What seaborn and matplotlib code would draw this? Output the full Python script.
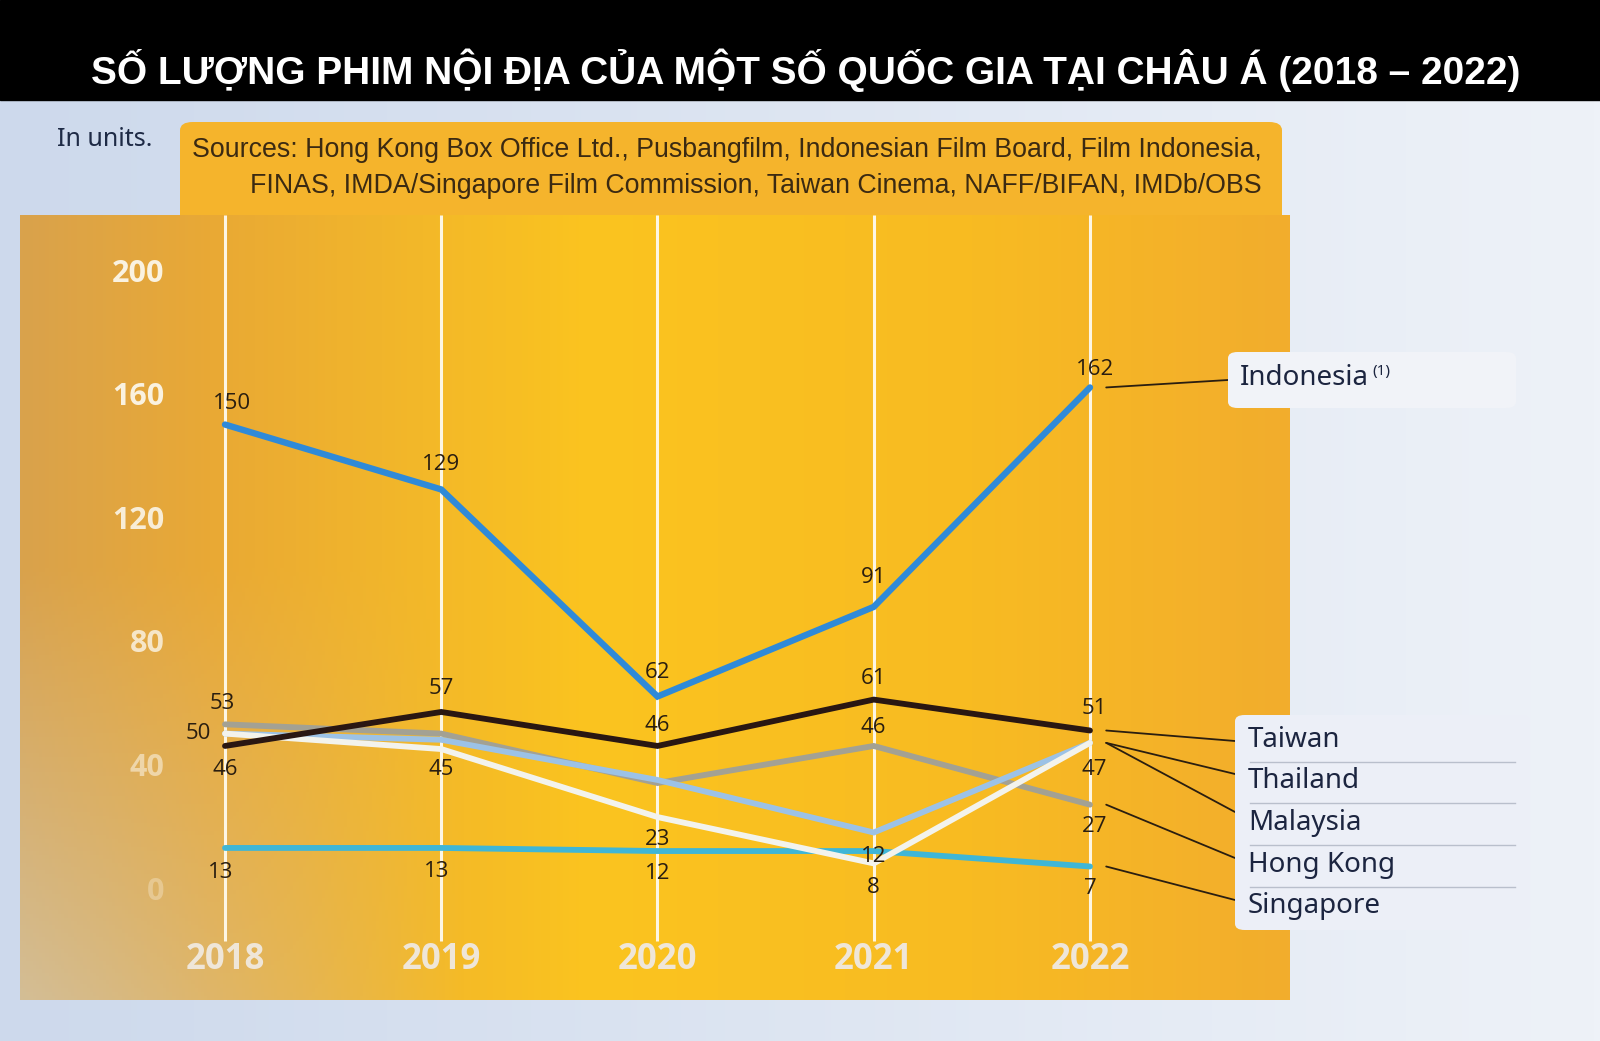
import matplotlib
matplotlib.use('Agg')
import matplotlib.pyplot as plt
import numpy as np
import pandas as pd
import seaborn as sns
from matplotlib.patches import Rectangle, FancyBboxPatch
from matplotlib.colors import to_rgb

# Số liệu (đơn vị: phim)
years = [2018, 2019, 2020, 2021, 2022]
indonesia = [150, 129, 62, 91, 162]
taiwan = [46, 57, 46, 61, 51]
thailand = [50, 48, 35, 18, 47]
malaysia = [50, 45, 23, 8, 47]
hong_kong = [53, 50, 34, 46, 27]
singapore = [13, 13, 12, 12, 7]
y_ticks = [0, 40, 80, 120, 160, 200]

title = 'SỐ LƯỢNG PHIM NỘI ĐỊA CỦA MỘT SỐ QUỐC GIA TẠI CHÂU Á (2018 – 2022)'
source_1 = 'Sources: Hong Kong Box Office Ltd., Pusbangfilm, Indonesian Film Board, Film Indonesia,'
source_2 = 'FINAS, IMDA/Singapore Film Commission, Taiwan Cinema, NAFF/BIFAN, IMDb/OBS'

series = {
    'Singapore': singapore,
    'Hong Kong': hong_kong,
    'Thailand': thailand,
    'Malaysia': malaysia,
    'Taiwan': taiwan,
    'Indonesia': indonesia,
}
df = pd.DataFrame([(c, y, v) for c, vals in series.items() for y, v in zip(years, vals)],
                  columns=['country', 'year', 'value'])

palette = {
    'Indonesia': '#2f8ad8',
    'Taiwan': '#2a1712',
    'Hong Kong': '#a3a193',
    'Thailand': '#9cc2e6',
    'Malaysia': '#f3f3ec',
    'Singapore': '#3fb6d6',
}
widths = {'Indonesia': 4.6, 'Taiwan': 4.2, 'Hong Kong': 4.2,
          'Thailand': 4.2, 'Malaysia': 4.2, 'Singapore': 4.2}

# vị trí nhãn số (offset points), None = không ghi
label_offsets = {
    'Indonesia': [(5, 15), (0, 18), (0, 17), (0, 21), (4, 13)],
    'Taiwan': [(0, -17), (0, 17), (0, 15), (0, 15), (3, 16)],
    'Hong Kong': [(-2, 15), None, None, (0, 13), (3, -16)],
    'Thailand': [None, None, None, None, None],
    'Malaysia': [(-19, 0), (0, -15), (0, -16), (0, -17), (3, -19)],
    'Singapore': [(-3, -18), (-3, -17), (0, -16), (0, -4), (0, -16)],
}

W, H = 1600, 1041
fig = plt.figure(figsize=(16, 10.41), dpi=100)


def fx(x):
    return x / W


def fy(y):
    return 1 - y / H


# nền slide
bg = fig.add_axes([0, 0, 1, 1], zorder=-5)
grad = np.linspace(0, 1, 256)[None, :, None]
c0, c1 = np.array(to_rgb('#cdd9ec')), np.array(to_rgb('#eef2f8'))
bg.imshow(c0 + (c1 - c0) * grad, aspect='auto', extent=(0, 1, 0, 1))
bg.set_xlim(0, 1)
bg.set_ylim(0, 1)
bg.axis('off')
fig.add_artist(Rectangle((0, fy(100)), 1, 100 / H, transform=fig.transFigure,
                         color='black', zorder=-4))
fig.text(fx(806), fy(70), title, ha='center', va='center', fontsize=28,
         weight='bold', color='white', family='Liberation Sans')
fig.text(fx(57), fy(140), 'In units.', ha='left', va='center', fontsize=18,
         color='#1e2a45', family='Noto Sans')

# hộp nguồn
fig.add_artist(FancyBboxPatch((fx(180), fy(225)), 1102 / W, 103 / H,
                              boxstyle='round,pad=0,rounding_size=0.008',
                              transform=fig.transFigure, fc='#f5b42c', ec='none',
                              zorder=-3))
fig.text(fx(1262), fy(150), source_1, ha='right', va='center', fontsize=19.3,
         color='#3b2a12', family='Liberation Sans')
fig.text(fx(1262), fy(186), source_2, ha='right', va='center', fontsize=19.3,
         color='#3b2a12', family='Liberation Sans')

# vùng biểu đồ
ax = fig.add_axes([fx(20), 1 - 1000 / H, 1270 / W, 785 / H])
xlim = (2017.052, 2022.925)
ylim = (-36.2, 217.8)

nx, ny = 400, 200
xf = np.linspace(0, 1, nx)[None, :]
yf = np.linspace(0, 1, ny)[:, None]
stops = [0.0, 0.15, 0.45, 0.75, 1.0]
cols = [to_rgb(c) for c in ['#d9a24c', '#e9a935', '#fbc41f', '#f8bb22', '#f2ad2d']]
img = np.zeros((ny, nx, 3))
for k in range(3):
    img[:, :, k] = np.interp(xf[0], stops, [c[k] for c in cols])[None, :]
w = np.clip(1 - xf / 0.35, 0, 1) * np.clip((yf - 0.45) / 0.55, 0, 1) * 0.75
img = img * (1 - w[..., None]) + np.array(to_rgb('#d2c7ae')) * w[..., None]
ax.imshow(img, aspect='auto', extent=(*xlim, *ylim), zorder=0, origin='upper')

ax.vlines(years, -17, ylim[1], color='#fdf6e4', lw=2.2, zorder=1)

sns.lineplot(data=df, x='year', y='value', hue='country', hue_order=list(series),
             palette=palette, legend=False, ax=ax, zorder=3)
for line, name in zip(ax.lines, series):
    line.set_linewidth(widths[name])
    line.set_solid_capstyle('round')
    line.set_solid_joinstyle('miter')

for name, vals in series.items():
    for yr, v, off in zip(years, vals, label_offsets[name]):
        if off is None:
            continue
        ax.annotate(str(v), (yr, v), xytext=off, textcoords='offset points',
                    ha='center', va='center', fontsize=16, color='#2a1e10',
                    family='Open Sans', zorder=5)

ax.set_xlim(*xlim)
ax.set_ylim(*ylim)
ax.set_xticks(years)
ax.set_xticklabels([str(y) for y in years], fontsize=25, weight='bold',
                   color='#efe6d8', family='Open Sans')
ax.tick_params(axis='x', length=0, pad=-42)
ax.set_yticks(y_ticks)
ax.set_yticklabels([str(t) for t in y_ticks], fontsize=22, weight='bold',
                   family='Open Sans')
for lab, a in zip(ax.get_yticklabels(), [0.35, 0.6, 0.85, 0.95, 1, 1]):
    lab.set_color((0.98, 0.95, 0.88, a))
ax.tick_params(axis='y', length=0, pad=-104)
ax.set_xlabel('')
ax.set_ylabel('')
for s in ax.spines.values():
    s.set_visible(False)

# chú thích bên phải
fig.add_artist(FancyBboxPatch((fx(1228), fy(408)), 288 / W, 56 / H,
                              boxstyle='round,pad=0,rounding_size=0.006',
                              transform=fig.transFigure, fc='#f1f3f8', ec='none',
                              zorder=6))
fig.text(fx(1240), fy(378), 'Indonesia', ha='left', va='center', fontsize=20,
         color='#1c2540', family='Noto Sans', zorder=7)
fig.text(fx(1372), fy(372), '(1)', ha='left', va='center', fontsize=11,
         color='#1c2540', family='Noto Sans', zorder=7)

fig.add_artist(FancyBboxPatch((fx(1235), fy(930)), 295 / W, 215 / H,
                              boxstyle='round,pad=0,rounding_size=0.006',
                              transform=fig.transFigure, fc='#eceff7', ec='none',
                              zorder=6))
legend_rows = ['Taiwan', 'Thailand', 'Malaysia', 'Hong Kong', 'Singapore']
row_y = [740, 781, 823, 865, 906]
line_end = [741, 774, 812, 858, 900]
for i, (name, yy) in enumerate(zip(legend_rows, row_y)):
    fig.text(fx(1248), fy(yy), name, ha='left', va='center', fontsize=20,
             color='#1c2540', family='Noto Sans', zorder=7)
    if i < len(legend_rows) - 1:
        fig.add_artist(plt.Line2D([fx(1250), fx(1515)], [fy(yy + 22)] * 2,
                                  transform=fig.transFigure, color='#b9bfcc',
                                  lw=1, zorder=7))

ends = dict(zip(legend_rows, line_end))
ends['Indonesia'] = 380
for name, yy in ends.items():
    x_end = 1228 if name == 'Indonesia' else 1235
    ax.annotate('', xy=(years[-1] + 0.075, series[name][-1]),
                xytext=(x_end, H - yy), textcoords='figure pixels',
                arrowprops=dict(arrowstyle='-', color='#2a1e10', lw=1.3,
                                shrinkA=0, shrinkB=0), zorder=5,
                annotation_clip=False)

fig.savefig('out.png', dpi=100)
